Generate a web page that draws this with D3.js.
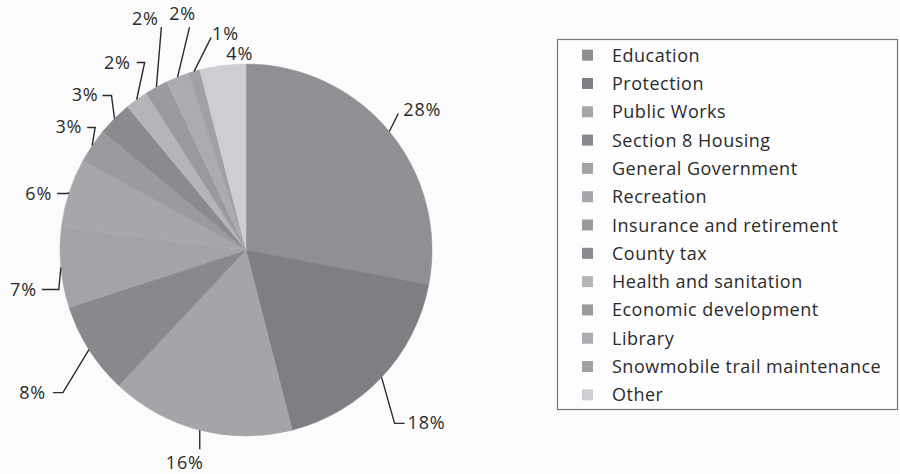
<!DOCTYPE html>
<html>
<head>
<meta charset="utf-8">
<script src="https://cdn.jsdelivr.net/npm/d3@7"></script>
<style>
  html, body { margin: 0; padding: 0; background: #fbfbfb; }
  svg { display: block; }
  text { font-family: "Open Sans", sans-serif; fill: #2b2b2b; }
</style>
</head>
<body>
<svg id="chart" width="900" height="474"></svg>
<script>
// ---- data ----
const categories = ["Education", "Protection", "Public Works", "Section 8 Housing",
  "General Government", "Recreation", "Insurance and retirement", "County tax",
  "Health and sanitation", "Economic development", "Library",
  "Snowmobile trail maintenance", "Other"];
const values = [28, 18, 16, 8, 7, 6, 3, 3, 2, 2, 2, 1, 4];
const labels = ["28%", "18%", "16%", "8%", "7%", "6%", "3%", "3%", "2%", "2%", "2%", "1%", "4%"];
const colors = ["#8f9094", "#7e7f83", "#a4a5a9", "#88898d", "#a3a4a8", "#a6a7ab",
  "#9a9b9f", "#8a8b8f", "#b4b5b9", "#999a9e", "#abacb0", "#a0a1a5", "#cdced2"];

// ---- label layout (elbow offset from slice anchor, horizontal tail, text side) ----
// [ex, ey, tail, anchor, textDx, textDy]
const labelLayout = [
  [9, -18, 0, "start", 5, 3],
  [13, 46, 10, "start", 3, 6],
  [0, 19, 0, "middle", -15, 20],
  [-26, 43, -10, "end", -7, 6],
  [-2, 22, -17, "end", -5, 6],
  [-2, 1, -10, "end", -5, 6],
  [3, -18, -8, "end", -5, 6],
  [-3, -23, -9, "end", -4, 6],
  [8, -37, -8, "end", -6, 6],
  [5, -60, 0, "middle", -16, -2],
  [12, -50, 0, "middle", -7, -7],
  [17, -34, 0, "start", 1, 3],
  [0, 0, 0, "middle", 17, -5]
];

const svg = d3.select("#chart");
const cx = 246, cy = 250, r = 186;

const pie = d3.pie().sort(null).value(d => d.v);
const arcs = pie(values.map((v, i) => ({ v, i })));
const arc = d3.arc().innerRadius(0).outerRadius(r);

const g = svg.append("g").attr("transform", `translate(${cx},${cy})`);
g.selectAll("path.slice").data(arcs).enter().append("path")
  .attr("class", "slice")
  .attr("d", arc)
  .attr("fill", d => colors[d.data.i])
  .attr("stroke", d => colors[d.data.i])
  .attr("stroke-width", 0.5);

// labels with leader lines
arcs.forEach((d, i) => {
  const mid = (d.startAngle + d.endAngle) / 2;
  const ax = Math.sin(mid) * r, ay = -Math.cos(mid) * r;
  const [ex, ey, tail, anchor, tdx, tdy] = labelLayout[i];
  const bx = ax + ex, by = ay + ey;
  const tx = bx + tail;
  if (!(ex === 0 && ey === 0)) {
    g.append("polyline")
      .attr("points", `${ax},${ay} ${bx},${by} ${tx},${by}`)
      .attr("fill", "none")
      .attr("stroke", "#2b2b2b")
      .attr("stroke-width", 1.4);
  }
  g.append("text")
    .attr("x", tx + tdx)
    .attr("y", by + tdy)
    .attr("text-anchor", anchor)
    .attr("font-size", 18)
    .attr("letter-spacing", 0.8)
    .text(labels[i]);
});

// legend
const lg = svg.append("g");
lg.append("rect")
  .attr("x", 557.5).attr("y", 39.5)
  .attr("width", 340).attr("height", 370)
  .attr("fill", "#fdfdfd")
  .attr("stroke", "#7a7a7a")
  .attr("stroke-width", 1.2);

const row = d3.scaleBand().domain(d3.range(categories.length)).range([41, 409]);
const items = lg.selectAll("g.item").data(categories).enter().append("g")
  .attr("class", "item")
  .attr("transform", (d, i) => `translate(0,${row(i) + row.bandwidth() / 2})`);
items.append("rect")
  .attr("x", 582).attr("y", -5.5)
  .attr("width", 11).attr("height", 11)
  .attr("fill", (d, i) => colors[i]);
items.append("text")
  .attr("x", 612).attr("y", 6.5)
  .attr("font-size", 18)
  .attr("letter-spacing", 0.5)
  .text(d => d);
</script>
</body>
</html>
